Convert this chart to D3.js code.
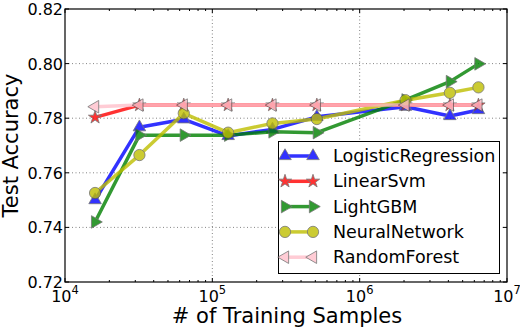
<!DOCTYPE html>
<html>
<head>
<meta charset="utf-8">
<script src="https://cdn.jsdelivr.net/npm/d3@7"></script>
<style>
  body { margin: 0; background: #fff; }
  svg text { font-family: "DejaVu Sans", sans-serif; }
</style>
</head>
<body>
<svg id="chart" width="520" height="332"></svg>
<script>
// training set sizes and test accuracies
const samples = [16000, 32000, 64000, 128000, 256000, 512000, 2048000, 4096000, 6400000];
const logisticRegression = [0.750, 0.7767, 0.7796, 0.7735, 0.7759, 0.7805, 0.7842, 0.7808, 0.7830];
const linearSvm = [0.7803, 0.7848, 0.7848, 0.7848, 0.7848, 0.7848, 0.7848, 0.7848, 0.7848];
const lightGBM = [0.742, 0.7738, 0.7738, 0.7738, 0.7750, 0.7747, 0.7867, 0.7934, 0.7999];
const neuralNetwork = [0.7526, 0.7665, 0.7818, 0.7747, 0.7781, 0.7797, 0.7866, 0.7893, 0.7913];
const randomForest = [0.7842, 0.7848, 0.7848, 0.7848, 0.7848, 0.7848, 0.7848, 0.7848, 0.7848];
const yTicks = [0.72, 0.74, 0.76, 0.78, 0.80, 0.82];
const xTicks = [1e4, 1e5, 1e6, 1e7];

const series = [
  { name: "LogisticRegression", values: logisticRegression, color: "#0000ff", marker: "tri-up" },
  { name: "LinearSvm", values: linearSvm, color: "#ff0000", marker: "star" },
  { name: "LightGBM", values: lightGBM, color: "#008000", marker: "tri-right" },
  { name: "NeuralNetwork", values: neuralNetwork, color: "#bfbf00", marker: "circle" },
  { name: "RandomForest", values: randomForest, color: "#ffc0cb", marker: "tri-left" },
];

const svg = d3.select("svg#chart");
const pLeft = 65, pRight = 507, pTop = 9, pBottom = 282;

const x = d3.scaleLog().domain([1e4, 1e7]).range([pLeft, pRight]);
const y = d3.scaleLinear().domain([0.72, 0.82]).range([pBottom, pTop]);

// grid
const grid = svg.append("g").attr("stroke", "#000").attr("stroke-width", 0.6)
  .attr("stroke-dasharray", "1,2.5").attr("opacity", 0.8);
grid.selectAll("line.gy").data(yTicks.slice(1, -1)).enter().append("line")
  .attr("x1", pLeft).attr("x2", pRight).attr("y1", d => y(d)).attr("y2", d => y(d));
grid.selectAll("line.gx").data(xTicks.slice(1, -1)).enter().append("line")
  .attr("y1", pTop).attr("y2", pBottom).attr("x1", d => x(d)).attr("x2", d => x(d));

// ticks pointing inward on all four sides
const minor = [];
for (let e = 4; e < 7; e++) for (let k = 2; k < 10; k++) minor.push(k * Math.pow(10, e));
const ticks = svg.append("g").attr("stroke", "#000").attr("stroke-width", 1);
xTicks.forEach(t => {
  ticks.append("line").attr("x1", x(t)).attr("x2", x(t)).attr("y1", pBottom).attr("y2", pBottom - 4);
  ticks.append("line").attr("x1", x(t)).attr("x2", x(t)).attr("y1", pTop).attr("y2", pTop + 4);
});
minor.forEach(t => {
  ticks.append("line").attr("x1", x(t)).attr("x2", x(t)).attr("y1", pBottom).attr("y2", pBottom - 2);
  ticks.append("line").attr("x1", x(t)).attr("x2", x(t)).attr("y1", pTop).attr("y2", pTop + 2);
});
yTicks.forEach(t => {
  ticks.append("line").attr("x1", pLeft).attr("x2", pLeft + 4).attr("y1", y(t)).attr("y2", y(t));
  ticks.append("line").attr("x1", pRight).attr("x2", pRight - 4).attr("y1", y(t)).attr("y2", y(t));
});

// marker shapes
function markerPath(type) {
  if (type === "circle") return d3.symbol(d3.symbolCircle, 100)();
  if (type === "star") return d3.symbol(d3.symbolStar, 55)();
  return d3.symbol(d3.symbolTriangle, 68)();
}
function markerRotate(type) {
  if (type === "tri-right") return 90;
  if (type === "tri-left") return -90;
  return 0;
}

const line = d3.line().x((d, i) => x(samples[i])).y(d => y(d));

series.forEach(s => {
  const g = svg.append("g").attr("opacity", 0.8);
  g.append("path").attr("d", line(s.values)).attr("fill", "none")
    .attr("stroke", s.color).attr("stroke-width", 3.5).attr("stroke-linejoin", "round");
  g.selectAll("path.m").data(s.values).enter().append("path")
    .attr("d", markerPath(s.marker))
    .attr("transform", (d, i) => `translate(${x(samples[i])},${y(d)}) rotate(${markerRotate(s.marker)})`)
    .attr("fill", s.color).attr("stroke", "#555").attr("stroke-width", 0.8);
});

// frame
svg.append("rect").attr("x", pLeft).attr("y", pTop).attr("width", pRight - pLeft).attr("height", pBottom - pTop)
  .attr("fill", "none").attr("stroke", "#000").attr("stroke-width", 1.2);

// tick labels
svg.selectAll("text.yt").data(yTicks).enter().append("text")
  .attr("x", pLeft - 2).attr("y", d => y(d) + 6).attr("text-anchor", "end")
  .attr("font-size", 16).text(d => d.toFixed(2));

xTicks.forEach(t => {
  const txt = svg.append("text").attr("x", x(t)).attr("y", 302).attr("text-anchor", "middle").attr("font-size", 16);
  txt.append("tspan").text("10");
  txt.append("tspan").attr("dy", -8).attr("font-size", 11.5).text(Math.log10(t));
});

// axis labels
svg.append("text").attr("x", (pLeft + pRight) / 2 + 1).attr("y", 323).attr("text-anchor", "middle")
  .attr("font-size", 21).text("# of Training Samples");
svg.append("text").attr("transform", `translate(18,${(pTop + pBottom) / 2}) rotate(-90)`)
  .attr("text-anchor", "middle").attr("font-size", 21).text("Test Accuracy");

// legend
const lg = svg.append("g");
lg.append("rect").attr("x", 278.5).attr("y", 141.5).attr("width", 221).attr("height", 132)
  .attr("fill", "#fff").attr("stroke", "#000").attr("stroke-width", 1);
series.forEach((s, i) => {
  const ly = 156 + i * 25.3;
  const row = lg.append("g");
  const item = row.append("g").attr("opacity", 0.8);
  item.append("line").attr("x1", 285).attr("x2", 313).attr("y1", ly).attr("y2", ly)
    .attr("stroke", s.color).attr("stroke-width", 3.5);
  [285, 313].forEach(px => {
    item.append("path").attr("d", markerPath(s.marker))
      .attr("transform", `translate(${px},${ly}) rotate(${markerRotate(s.marker)})`)
      .attr("fill", s.color).attr("stroke", "#555").attr("stroke-width", 0.8);
  });
  row.append("text").attr("x", 333).attr("y", ly + 6).attr("font-size", 17.5).text(s.name);
});
</script>
</body>
</html>
